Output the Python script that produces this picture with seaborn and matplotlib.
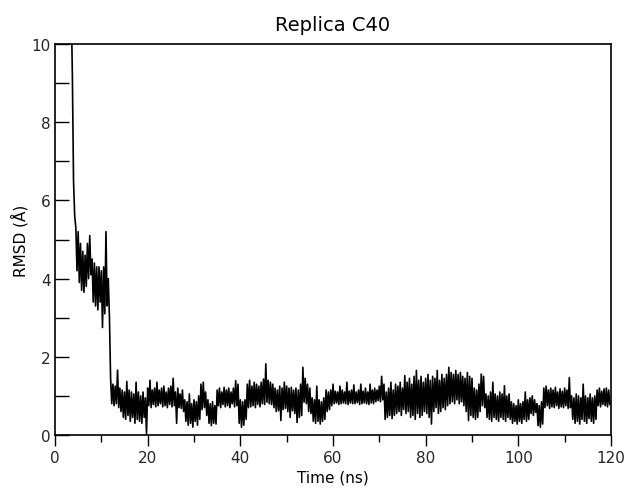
import numpy as np
import pandas as pd
import matplotlib
matplotlib.use("Agg")
import matplotlib.pyplot as plt
import seaborn as sns
from matplotlib.ticker import MultipleLocator

# ---- data (0.5 ns bins: upper / lower envelope of the noisy trace) ----
bin_start = 3.5
bin_step = 0.5

rmsd_hi = [
    # 3.5 - 11.5
    11.0, 6.5, 5.3, 5.2, 4.9, 4.7, 4.6, 4.9, 5.1, 4.5, 4.4, 4.3, 4.3, 4.2, 4.3, 5.2, 4.0,
    # 12 - 16.5
    1.45, 1.3, 1.25, 1.66, 1.2, 1.15, 1.1, 1.37, 1.15, 1.1,
    # 17 - 21.5
    1.05, 1.35, 1.1, 1.0, 1.1, 0.95, 1.2, 1.4, 1.15, 1.2,
    # 22 - 26.5
    1.35, 1.15, 1.2, 1.25, 1.1, 1.2, 1.25, 1.45, 1.1, 1.2,
    # 27 - 31.5
    1.05, 1.15, 0.9, 0.85, 1.05, 0.8, 0.9, 0.85, 1.0, 1.3,
    # 32 - 36.5
    1.35, 1.1, 0.9, 0.8, 0.85, 0.75, 1.15, 1.2, 1.1, 1.22,
    # 37 - 41.5
    1.15, 1.2, 1.1, 1.2, 1.39, 1.3, 0.9, 0.85, 0.9, 1.3,
    # 42 - 46.5
    1.4, 1.25, 1.35, 1.3, 1.25, 1.35, 1.43, 1.82, 1.4, 1.35,
    # 47 - 51.5
    1.3, 1.2, 1.15, 1.25, 1.2, 1.35, 1.25, 1.2, 1.22, 1.15,
    # 52 - 56.5
    1.2, 1.15, 1.3, 1.73, 1.45, 1.3, 1.2, 0.95, 0.9, 1.25,
    # 57 - 61.5
    0.9, 0.85, 0.95, 1.15, 1.1, 1.15, 1.3, 1.12, 1.1, 1.25,
    # 62 - 66.5
    1.15, 1.1, 1.35, 1.12, 1.15, 1.28, 1.1, 1.15, 1.3, 1.12,
    # 67 - 71.5
    1.2, 1.1, 1.3, 1.15, 1.2, 1.15, 1.25, 1.5, 1.3, 1.1,
    # 72 - 76.5
    1.2, 1.35, 1.15, 1.3, 1.25, 1.35, 1.2, 1.52, 1.35, 1.45,
    # 77 - 81.5
    1.3, 1.5, 1.65, 1.4, 1.5, 1.35, 1.45, 1.55, 1.4, 1.5,
    # 82 - 86.5
    1.45, 1.65, 1.4, 1.55, 1.45, 1.55, 1.73, 1.6, 1.55, 1.65,
    # 87 - 91.5
    1.55, 1.6, 1.5, 1.45, 1.6, 1.5, 1.45, 1.2, 1.15, 1.3,
    # 92 - 96.5
    1.56, 1.5, 1.05, 1.0, 1.1, 1.35, 1.05, 1.0, 1.1, 1.05,
    # 97 - 101.5
    1.26, 1.0, 1.05, 0.85, 0.8, 0.75, 0.9, 0.8, 0.85, 1.1,
    # 102 - 106.5
    0.9, 0.95, 1.0, 0.9, 0.8, 0.75, 0.85, 1.2, 1.25, 1.15,
    # 107 - 111.5
    1.2, 1.15, 1.22, 1.1, 1.18, 1.12, 1.2, 1.15, 1.47, 1.0,
    # 112 - 116.5
    0.95, 1.05, 1.0, 0.95, 1.3, 1.0, 0.95, 1.05, 0.95, 1.0,
    # 117 - 119.5
    1.15, 1.2, 1.12, 1.18, 1.2, 1.15,
]

rmsd_lo = [
    # 3.5 - 11.5
    9.2, 5.6, 4.2, 3.9, 3.7, 3.65, 3.8, 4.0, 4.1, 3.4, 3.3, 3.2, 3.4, 2.75, 3.1, 3.3, 3.0,
    # 12 - 16.5
    0.8, 0.75, 0.8, 0.7, 0.6, 0.45, 0.4, 0.5, 0.35, 0.45,
    # 17 - 21.5
    0.3, 0.4, 0.35, 0.3, 0.45, 0.03, 0.75, 0.7, 0.78, 0.72,
    # 22 - 26.5
    0.75, 0.8, 0.72, 0.75, 0.7, 0.78, 0.72, 0.75, 0.3, 0.7,
    # 27 - 31.5
    0.68, 0.6, 0.35, 0.25, 0.3, 0.2, 0.35, 0.25, 0.4, 0.65,
    # 32 - 36.5
    0.7, 0.5, 0.3, 0.24, 0.3, 0.28, 0.75, 0.7, 0.78, 0.72,
    # 37 - 41.5
    0.75, 0.7, 0.8, 0.72, 0.75, 0.3, 0.2, 0.25, 0.4, 0.7,
    # 42 - 46.5
    0.72, 0.75, 0.7, 0.78, 0.72, 0.8, 0.78, 0.84, 0.8, 0.78,
    # 47 - 51.5
    0.7, 0.6, 0.62, 0.37, 0.65, 0.68, 0.6, 0.45, 0.62, 0.55,
    # 52 - 56.5
    0.32, 0.45, 0.5, 0.84, 0.8, 0.6, 0.55, 0.35, 0.3, 0.35,
    # 57 - 61.5
    0.28, 0.35, 0.4, 0.6, 0.65, 0.75, 0.8, 0.82, 0.78, 0.8,
    # 62 - 66.5
    0.82, 0.8, 0.78, 0.82, 0.8, 0.8, 0.83, 0.78, 0.8, 0.82,
    # 67 - 71.5
    0.8, 0.78, 0.82, 0.8, 0.85, 0.88, 0.85, 0.9, 0.4, 0.45,
    # 72 - 76.5
    0.5, 0.42, 0.5, 0.55, 0.6, 0.5, 0.65, 0.55, 0.6, 0.45,
    # 77 - 81.5
    0.5, 0.4, 0.55, 0.45, 0.5, 0.6, 0.55, 0.45, 0.28, 0.6,
    # 82 - 86.5
    0.7, 0.55, 0.6, 0.7, 0.65, 0.75, 0.8, 0.85, 0.8, 0.9,
    # 87 - 91.5
    0.8, 0.85, 0.75, 0.6, 0.37, 0.5, 0.45, 0.4, 0.45, 0.6,
    # 92 - 96.5
    0.75, 0.7, 0.45, 0.4, 0.35, 0.45, 0.4, 0.35, 0.45, 0.4,
    # 97 - 101.5
    0.35, 0.45, 0.4, 0.3, 0.35, 0.28, 0.35, 0.3, 0.4, 0.35,
    # 102 - 106.5
    0.4, 0.55, 0.5, 0.58, 0.24, 0.2, 0.28, 0.7, 0.75, 0.68,
    # 107 - 111.5
    0.72, 0.7, 0.75, 0.68, 0.72, 0.7, 0.75, 0.68, 0.7, 0.4,
    # 112 - 116.5
    0.3, 0.35, 0.28, 0.4, 0.35, 0.3, 0.42, 0.35, 0.3, 0.4,
    # 117 - 119.5
    0.75, 0.72, 0.78, 0.75, 0.72, 0.78,
]

x_ticks = [0, 20, 40, 60, 80, 100, 120]
y_ticks = [0, 2, 4, 6, 8, 10]

# ---- build the trace: upper value at bin start, lower value half a bin later ----
n = len(rmsd_hi)
bin_t = bin_start + bin_step * np.arange(n)
t = np.empty(2 * n)
v = np.empty(2 * n)
t[0::2] = bin_t
t[1::2] = bin_t + bin_step / 2
v[0::2] = rmsd_hi
v[1::2] = rmsd_lo
df = pd.DataFrame({"Time (ns)": t, "RMSD": v})

sns.set_theme(style="white")
plt.rcParams["font.family"] = ["DejaVu Sans"]

fig = plt.figure(figsize=(6.24, 4.89), dpi=100)
ax = fig.add_axes([55 / 624, 1 - 436 / 489, 556 / 624, 391 / 489])

sns.lineplot(data=df, x="Time (ns)", y="RMSD", ax=ax, color="black",
             linewidth=1.2, sort=False, estimator=None)

ax.set_xlim(0, 120)
ax.set_ylim(0, 10)
ax.set_xticks(x_ticks)
ax.set_yticks(y_ticks)
ax.xaxis.set_minor_locator(MultipleLocator(10))
ax.yaxis.set_minor_locator(MultipleLocator(1))
ax.tick_params(axis="x", which="major", direction="out", length=8, width=1,
               color="black", labelsize=11, pad=3, bottom=True)
ax.tick_params(axis="x", which="minor", direction="out", length=5, width=1,
               color="black", bottom=True)
ax.tick_params(axis="y", which="both", direction="in", length=10, width=1,
               color="black", labelsize=11, pad=3, left=True)
for s in ax.spines.values():
    s.set_color("black")
    s.set_linewidth(1.2)

ax.set_xlabel("Time (ns)", fontsize=11, color="black", labelpad=3)
ax.set_ylabel("RMSD (Å)", fontsize=11, color="black", labelpad=2)
ax.set_title("Replica C40", fontsize=14, color="black", pad=10)

fig.savefig("out.png", dpi=100, facecolor="white")
